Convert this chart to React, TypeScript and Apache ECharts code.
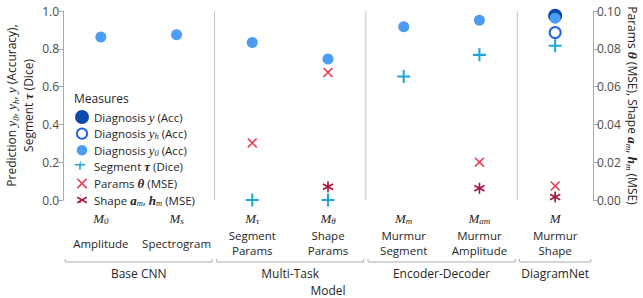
import React, { useEffect, useRef } from "react";
import * as echarts from "echarts";

const categories = ["Amplitude", "Spectrogram", "Segment Params", "Shape Params", "Murmur Segment", "Murmur Amplitude", "Murmur Shape"];
const categoryLines = ["Amplitude", "Spectrogram", "Segment\nParams", "Shape\nParams", "Murmur\nSegment", "Murmur\nAmplitude", "Murmur\nShape"];
const modelSubs = ["0", "s", "τ", "θ", "m", "am", ""];
const groups = [
  { name: "Base CNN", from: 0, to: 2 },
  { name: "Multi-Task", from: 2, to: 4 },
  { name: "Encoder-Decoder", from: 4, to: 6 },
  { name: "DiagramNet", from: 6, to: 7 },
];
const leftTicks = { min: 0, max: 1, interval: 0.2 };
const rightTicks = { min: 0, max: 0.1, interval: 0.02 };

const diagY = ["-", "-", "-", "-", "-", "-", 0.975];
const diagYh = ["-", "-", "-", "-", "-", "-", 0.886];
const diagY0 = [0.863, 0.874, 0.833, 0.746, 0.917, 0.951, 0.962];
const segTau = ["-", "-", 0.0, 0.0, 0.653, 0.768, 0.816];
const paramsTheta = ["-", "-", 0.0302, 0.0675, "-", 0.02, 0.0074];
const shapeMse = ["-", "-", "-", 0.007, "-", 0.0062, 0.0016];

const PLUS = "path://M4.2,0H5.8V4.2H10V5.8H5.8V10H4.2V5.8H0V4.2H4.2Z";
const CROSS = "path://M0,1.1L1.1,0L5,3.9L8.9,0L10,1.1L6.1,5L10,8.9L8.9,10L5,6.1L1.1,10L0,8.9L3.9,5Z";
const STAR = "path://M4.3,0H5.7V10H4.3Z M0.32,3.11L1.02,1.89L9.68,6.89L8.98,8.11Z M0.32,6.89L8.98,1.89L9.68,3.11L1.02,8.11Z";
// legend icons: same shapes padded inside a 14x14 box via invisible corner specks
const SPECKS = "M0,0h0.01v0.01h-0.01Z M13.99,13.99h0.01v0.01h-0.01Z ";
const PAD = (inner: string, k: number) => {
  const o = (14 - k) / 2;
  return "path://" + SPECKS + inner.replace(/([-\d.]+),([-\d.]+)/g, (_m, a, b) => `${(+a * k) / 10 + o},${(+b * k) / 10 + o}`);
};
const CIRCLE_D = (r: number) => `M${7 - r},7A${r},${r},0,1,1,${7 + r},7A${r},${r},0,1,1,${7 - r},7Z`;

const SANS = "'Open Sans', 'Noto Sans', sans-serif";
const SERIF = "'Liberation Serif', 'DejaVu Serif', serif";
const TXT = "#262626";
const TICK = "#4a4a4a";
const AXIS = "#aaaaaa";

const mathRich = (size: number, lh: number) => ({
  t: { fontFamily: SANS, fontSize: size, color: TXT, lineHeight: lh },
  i: { fontFamily: SERIF, fontStyle: "italic", fontSize: size + 1.5, color: TXT, lineHeight: lh },
  b: { fontFamily: SERIF, fontStyle: "italic", fontWeight: "bold", fontSize: size + 1.5, color: TXT, lineHeight: lh },
  s: { fontFamily: SERIF, fontStyle: "italic", fontSize: size - 3, color: TXT, verticalAlign: "bottom", lineHeight: lh - 4 },
});

const legendLabels: Record<string, string> = {
  "Diagnosis y (Acc)": "{t|Diagnosis }{i|y}{t| (Acc)}",
  "Diagnosis yh (Acc)": "{t|Diagnosis }{i|y}{s|h}{t| (Acc)}",
  "Diagnosis y0 (Acc)": "{t|Diagnosis }{i|y}{s|0}{t| (Acc)}",
  "Segment τ (Dice)": "{t|Segment }{b|τ}{t| (Dice)}",
  "Params θ (MSE)": "{t|Params }{b|θ}{t| (MSE)}",
  "Shape am, hm (MSE)": "{t|Shape }{b|a}{s|m}{t|, }{b|h}{s|m}{t| (MSE)}",
};

export default function App() {
  const ref = useRef<HTMLDivElement>(null);
  useEffect(() => {
    document.body.style.margin = "0";
    if (!ref.current) return;
    const chart = echarts.init(ref.current, null, { renderer: "svg" });
    const legendIcons = [
      "path://" + SPECKS + CIRCLE_D(7),
      "path://" + SPECKS + CIRCLE_D(6.2) + " " + `M${7 - 4.2},7A4.2,4.2,0,1,0,${7 + 4.2},7A4.2,4.2,0,1,0,${7 - 4.2},7Z`,
      "path://" + SPECKS + CIRCLE_D(5.3),
      PAD(PLUS.slice(7), 13),
      PAD(CROSS.slice(7), 10.5),
      PAD(STAR.slice(7), 11),
    ];
    const legendColors = ["#0b49aa", "#1f63e6", "#4c9cf6", "#1ca7dc", "#ee3a50", "#a8163e"];
    const option: any = {
      animation: false,
      grid: { left: 63, right: 50, top: 11, bottom: 98, containLabel: false, outerBoundsMode: "none" },
      legend: {
        orient: "vertical",
        left: 75,
        top: 110,
        itemWidth: 14,
        itemHeight: 14,
        itemGap: 2.6,
        padding: 0,
        selectedMode: false,
        textStyle: { fontFamily: SANS, fontSize: 11.5, color: TXT, lineHeight: 14, rich: mathRich(11.5, 14) },
        formatter: (n: string) => legendLabels[n] || n,
        data: Object.keys(legendLabels).map((n, i) => ({
          name: n,
          icon: legendIcons[i],
          itemStyle: { color: legendColors[i], borderWidth: 0 },
        })),
      },
      xAxis: [
        {
          type: "category",
          data: categories,
          boundaryGap: true,
          axisLine: { show: false },
          axisTick: { show: false },
          splitLine: { show: false },
          axisLabel: {
            interval: 0,
            margin: 11,
            formatter: (_v: string, i: number) => (modelSubs[i] ? `{i|M}{s|${modelSubs[i]}}` : "{i|M}"),
            rich: {
              i: { fontFamily: SERIF, fontStyle: "italic", fontSize: 13, color: TXT, lineHeight: 14 },
              s: { fontFamily: SERIF, fontStyle: "italic", fontSize: 9, color: TXT, verticalAlign: "bottom", lineHeight: 9 },
            },
          },
        },
        {
          type: "category",
          data: categories,
          position: "bottom",
          boundaryGap: true,
          axisLine: { show: false },
          axisTick: { show: false },
          splitLine: { show: false },
          name: "Model",
          nameLocation: "middle",
          nameGap: 84,
          nameMoveOverlap: false,
          nameTextStyle: { fontFamily: SANS, fontSize: 12, color: TXT },
          axisLabel: {
            interval: 0,
            margin: 43,
            verticalAlign: "middle",
            lineHeight: 14.5,
            fontFamily: SANS,
            fontSize: 11.5,
            color: TXT,
            formatter: (_v: string, i: number) => categoryLines[i],
          },
        },
      ],
      yAxis: [
        {
          type: "value",
          ...leftTicks,
          position: "left",
          axisLine: { show: true, lineStyle: { color: AXIS } },
          axisTick: { show: true, length: 5, lineStyle: { color: AXIS } },
          splitLine: { show: false },
          axisLabel: { margin: 4, fontFamily: SANS, fontSize: 12, color: TICK, formatter: (v: number) => v.toFixed(1) },
          name: "{t|Prediction }{i|y}{s|0}{t|, }{i|y}{s|h}{t|, }{i|y}{t| (Accuracy),}\n{t|Segment }{b|τ}{t| (Dice)}",
          nameLocation: "middle",
          nameRotate: 90,
          nameGap: 26,
          nameMoveOverlap: false,
          nameTextStyle: { fontFamily: SANS, fontSize: 12, color: TXT, lineHeight: 17, rich: mathRich(12, 17) },
        },
        {
          type: "value",
          ...rightTicks,
          position: "right",
          axisLine: { show: true, lineStyle: { color: AXIS } },
          axisTick: { show: true, length: 5, lineStyle: { color: AXIS } },
          splitLine: { show: false },
          axisLabel: { margin: 4, fontFamily: SANS, fontSize: 12, color: TICK, formatter: (v: number) => v.toFixed(2) },
          name: "{t|Params }{b|θ}{t| (MSE), Shape }{b|a}{s|m}{t|, }{b|h}{s|m}{t| (MSE)}",
          nameLocation: "middle",
          nameRotate: -90,
          nameGap: 31,
          nameMoveOverlap: false,
          nameTextStyle: { fontFamily: SANS, fontSize: 12, color: TXT, rich: mathRich(12, 16) },
        },
      ],
      series: [
        { name: "Diagnosis y (Acc)", type: "scatter", data: diagY, symbol: "circle", symbolSize: 14, itemStyle: { color: "#0b49aa", opacity: 1 }, clip: false },
        { name: "Diagnosis yh (Acc)", type: "scatter", data: diagYh, symbol: "circle", symbolSize: 11, itemStyle: { color: "#ffffff", borderColor: "#1f63e6", borderWidth: 2, opacity: 1 }, clip: false },
        { name: "Diagnosis y0 (Acc)", type: "scatter", data: diagY0, symbol: "circle", symbolSize: 11, itemStyle: { color: "#4c9cf6", opacity: 1 }, clip: false },
        { name: "Segment τ (Dice)", type: "scatter", data: segTau, symbol: PLUS, symbolSize: 13, itemStyle: { color: "#1ca7dc", opacity: 1 }, clip: false },
        { name: "Params θ (MSE)", type: "scatter", yAxisIndex: 1, data: paramsTheta, symbol: CROSS, symbolSize: 10, itemStyle: { color: "#ee3a50", opacity: 1 }, clip: false },
        { name: "Shape am, hm (MSE)", type: "scatter", yAxisIndex: 1, data: shapeMse, symbol: STAR, symbolSize: 11, itemStyle: { color: "#a8163e", opacity: 1 }, clip: false },
      ],
    };
    chart.setOption(option);

    const xs = categories.map((c) => chart.convertToPixel({ xAxisIndex: 0 }, c) as number);
    const bw = xs[1] - xs[0];
    const bounds = [...xs.map((x) => x - bw / 2), xs[xs.length - 1] + bw / 2];
    const yTop = chart.convertToPixel({ yAxisIndex: 0 }, leftTicks.max) as number;
    const yBot = chart.convertToPixel({ yAxisIndex: 0 }, leftTicks.min) as number;
    const graphic: any[] = [];
    groups.forEach((g, gi) => {
      const b0 = bounds[g.from];
      const b1 = bounds[g.to];
      if (gi > 0) {
        graphic.push({ type: "line", silent: true, shape: { x1: b0, y1: yTop, x2: b0, y2: yBot }, style: { stroke: "#c4c4c4", lineWidth: 1 } });
      }
      const by = yBot + 62;
      graphic.push({
        type: "polyline",
        silent: true,
        shape: { points: [[b0 + 2, by - 3], [b0 + 2.5, by], [b1 - 2.5, by], [b1 - 2, by - 3]] },
        style: { stroke: AXIS, lineWidth: 1, fill: null },
      });
      graphic.push({
        type: "text",
        silent: true,
        x: (b0 + b1) / 2,
        y: yBot + 73,
        style: { text: g.name, fontFamily: SANS, fontSize: 12, fill: TXT, textAlign: "center", textVerticalAlign: "middle", align: "center", verticalAlign: "middle" },
      });
    });
    graphic.push({
      type: "text",
      silent: true,
      x: 74,
      y: 98,
      style: { text: "Measures", fontFamily: SANS, fontSize: 12, fill: TXT, textAlign: "left", textVerticalAlign: "middle", align: "left", verticalAlign: "middle" },
    });
    chart.setOption({ graphic });
    return () => chart.dispose();
  }, []);
  return <div ref={ref} style={{ width: 643, height: 298 }} />;
}
